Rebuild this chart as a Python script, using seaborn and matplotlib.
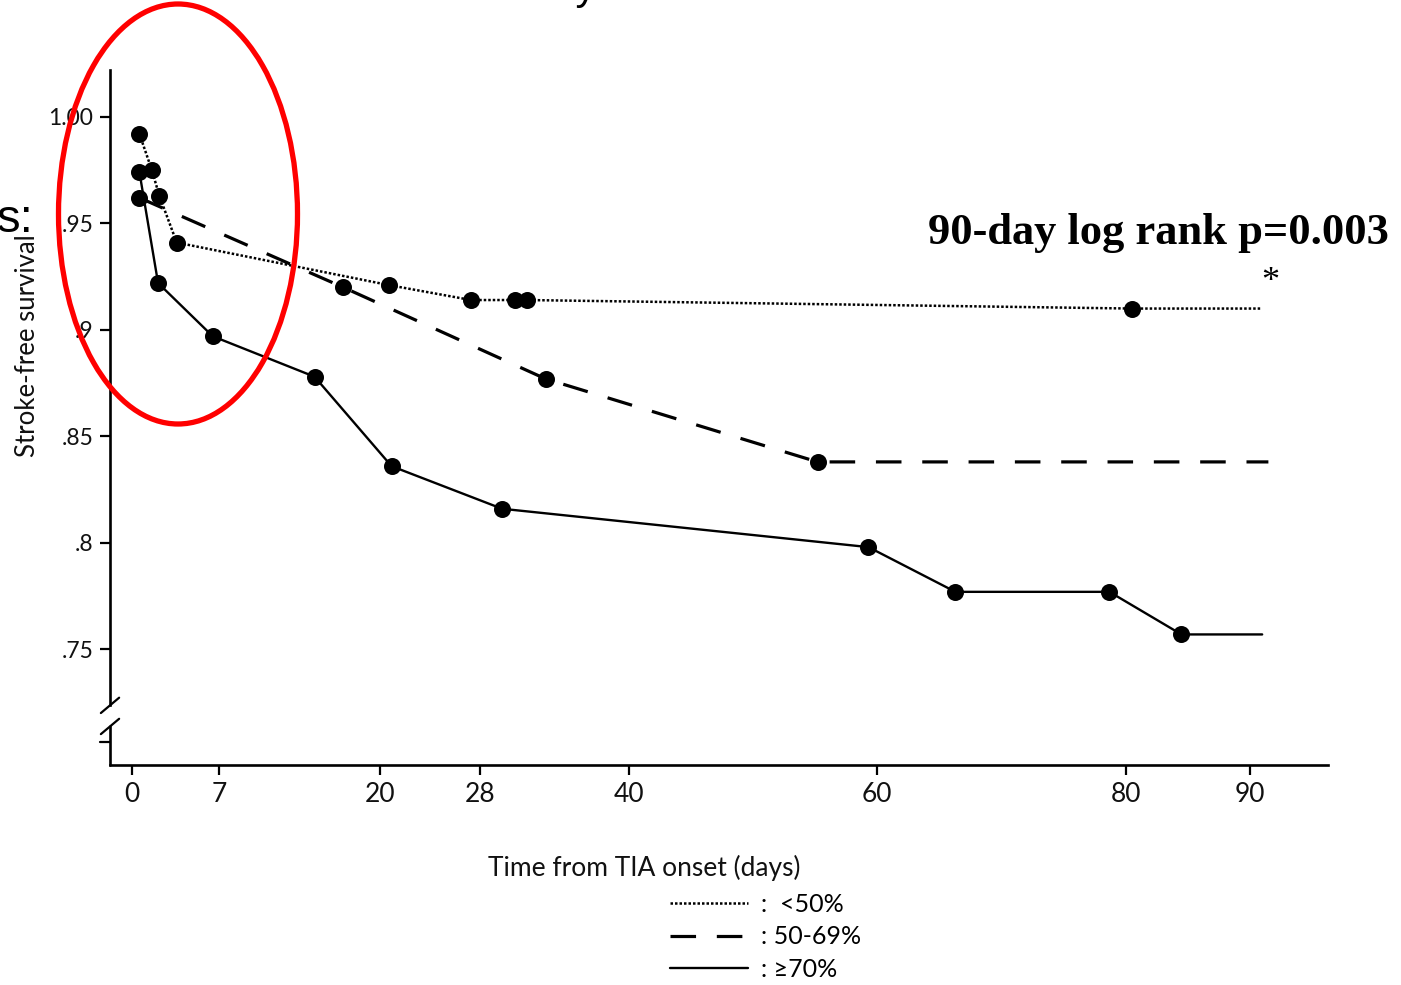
import numpy as np
import pandas as pd
import matplotlib.pyplot as plt
import seaborn as sns
from matplotlib.lines import Line2D
from matplotlib.patches import Ellipse


# !-----Data (event times in days, survival)-----!
lt50_days = [0.6, 1.6, 2.2, 3.6, 20.7, 27.3, 30.8, 31.8, 80.5]
lt50_surv = [0.992, 0.975, 0.963, 0.941, 0.921, 0.914, 0.914, 0.914, 0.910]

mid_days = [0.6, 17.0, 33.3, 55.2]
mid_surv = [0.962, 0.920, 0.877, 0.838]

ge70_days = [0.6, 2.1, 6.5, 14.7, 20.9, 29.8, 59.3, 66.3, 78.7, 84.5]
ge70_surv = [0.974, 0.922, 0.897, 0.878, 0.836, 0.816, 0.798, 0.777, 0.777, 0.757]

# last day of follow-up for each curve (<50%, 50-69%, >=70%)
follow_up_end = [91.0, 91.5, 91.0]

group_names = ['<50%', '50-69%', '>=70%']
legend_labels = [':  <50%', ': 50-69%', ': \u226570%']

x_ticks = [0, 7, 20, 28, 40, 60, 80, 90]
y_ticks = [1.00, 0.95, 0.90, 0.85, 0.80, 0.75]
y_tick_labels = ['1.00', '.95', '.9', '.85', '.8', '.75']


# !-----Building one long dataframe for seaborn-----!
def build_frame():
    rows = []
    curves = [(lt50_days, lt50_surv), (mid_days, mid_surv), (ge70_days, ge70_surv)]
    for name, (days, surv), end in zip(group_names, curves, follow_up_end):
        for d, s in zip(days, surv):
            rows.append({'group': name, 'day': d, 'surv': s, 'event': True})
        # survival stays flat until end of follow-up
        rows.append({'group': name, 'day': end, 'surv': surv[-1], 'event': False})
    return pd.DataFrame(rows)


df = build_frame()

sns.set_style('ticks')
plt.rcParams['font.family'] = ['Lato', 'DejaVu Sans']
plt.rcParams['text.color'] = 'black'

W, H = 1401, 985
fig = plt.figure(figsize=(W / 100, H / 100), dpi=100)
ax = fig.add_axes([110 / W, 1 - 765 / H, (1328 - 110) / W, (765 - 70) / H])

line_styles = {
    '<50%': dict(linestyle=(0, (1, 0.8)), linewidth=1.8),
    '50-69%': dict(linestyle=(0, (8, 6.5)), linewidth=2.3),
    '>=70%': dict(linestyle='-', linewidth=1.7),
}

for name in group_names:
    sub = df[df['group'] == name]
    sns.lineplot(data=sub, x='day', y='surv', ax=ax, color='black',
                 sort=False, estimator=None, **line_styles[name])
    ev = sub[sub['event']]
    sns.scatterplot(data=ev, x='day', y='surv', ax=ax, color='black', s=150,
                    linewidth=0, zorder=3)

# axis limits and ticks
y_lo, y_hi = 0.6957, 1.022
ax.set_xlim(-1.77, 96.3)
ax.set_ylim(y_lo, y_hi)
ax.set_xticks(x_ticks)
ax.set_xticklabels([str(t) for t in x_ticks], fontsize=19)
ax.set_yticks(y_ticks)
ax.set_yticklabels(y_tick_labels, fontsize=16.5)
ax.tick_params(axis='both', length=7, width=1.6, color='black', pad=5, labelcolor='#111111')

sns.despine(ax=ax)
for side in ['left', 'bottom']:
    ax.spines[side].set_linewidth(1.9)
    ax.spines[side].set_color('black')

# broken y axis near the bottom
ax.spines['left'].set_bounds(0.7237, y_hi)
brk = ax.get_yaxis_transform()
ax.plot([0, 0], [y_lo, 0.7138], color='black', lw=1.9, transform=brk, clip_on=False)
for yb in (0.7237, 0.7138):
    ax.plot([-0.0075, 0.0075], [yb - 0.0036, yb + 0.0036], color='black', lw=1.6,
            transform=brk, clip_on=False)
ax.plot([-0.0085, 0], [0.7067, 0.7067], color='black', lw=1.6, transform=brk, clip_on=False)

# axis labels
ax.set_xlabel('Time from TIA onset (days)', fontsize=19, va='center', color='#111111')
ax.xaxis.set_label_coords((644 - 110) / 1218, (765 - 868) / 695)
ax.set_ylabel('Stroke-free survival', fontsize=18.5, va='center', color='#111111')
ax.yaxis.set_label_coords((28 - 110) / 1218, (765 - 346) / 695)

# log rank annotation
fig.text(928 / W, 1 - 233 / H, '90-day log rank p=0.003', fontsize=32,
         fontweight='bold', family='Liberation Serif', va='center', ha='left')
fig.text(1270 / W, 1 - 282 / H, '*', fontsize=26, family='Liberation Serif',
         va='center', ha='center')

# legend under the x label, kept inside the bottom edge
handles = [Line2D([], [], color='black', **line_styles[n]) for n in group_names]
fig.legend(handles, legend_labels, loc='upper left', bbox_to_anchor=(670 / W, 1 - 893 / H),
           frameon=False, fontsize=18, handlelength=3.1, handletextpad=0.55,
           labelspacing=0.38, borderpad=0, borderaxespad=0)

# bits of the slide around the figure
fig.text(-3 / W, 1 - 232 / H, 's:', fontsize=34, family='Liberation Sans', va='baseline')
fig.text(490 / W, 1 + 1 / H, 'Study', fontsize=30, family='Liberation Sans', va='baseline')

# red highlight ring over the first week
fig.add_artist(Ellipse((178 / W, 1 - 214 / H), 239 / W, 420 / H, transform=fig.transFigure,
                       fill=False, edgecolor='#ff0000', linewidth=3.8, zorder=10))

fig.savefig('out.png', dpi=100)
